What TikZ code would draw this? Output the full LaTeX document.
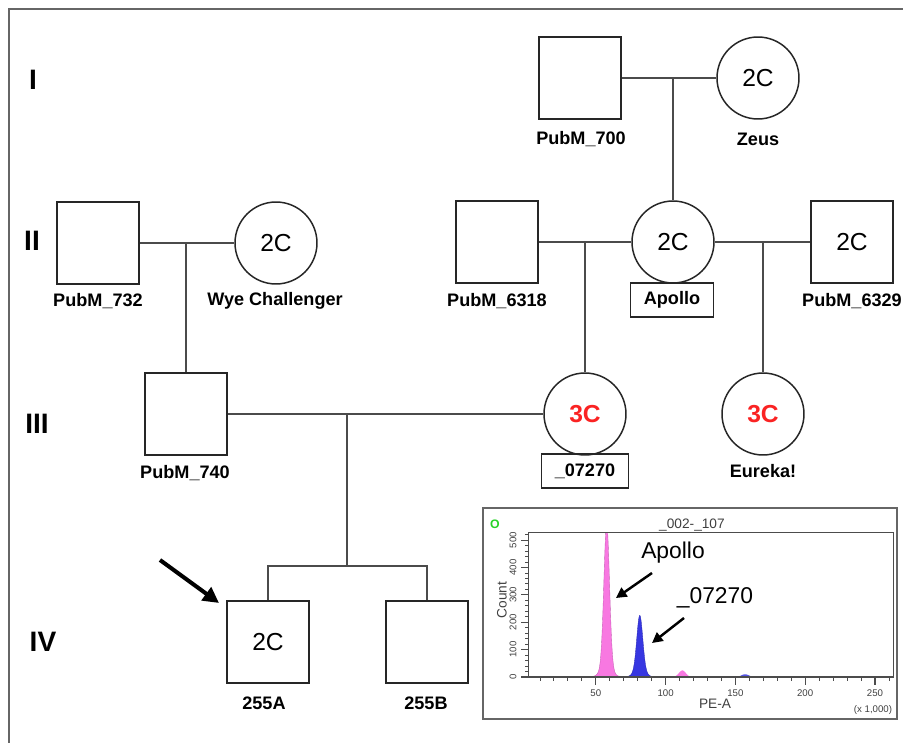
\documentclass[tikz,border=0pt]{standalone}
\usepackage{fontspec}
\setmainfont{Liberation Sans}
\usetikzlibrary{arrows.meta}

\definecolor{pedline}{RGB}{75,75,75}
\definecolor{threec}{RGB}{250,35,35}
\definecolor{apollopink}{RGB}{248,120,225}
\definecolor{peakblue}{RGB}{55,55,225}
\definecolor{gategreen}{RGB}{40,210,40}

\tikzset{
  male/.style={draw=black!85,line width=0.85pt,minimum size=1.64cm,inner sep=0pt,
    font=\fontsize{14}{16}\selectfont},
  female/.style={male,circle},
  triploid/.style={text=threec,font=\fontsize{14}{16}\selectfont\bfseries},
  idname/.style={inner sep=0pt,font=\fontsize{10.3}{12}\selectfont\bfseries},
  idbox/.style={idname,draw=black!85,line width=0.85pt,minimum width=1.66cm,minimum height=0.68cm},
  gen/.style={font=\fontsize{16}{18}\selectfont\bfseries},
  ped/.style={draw=pedline,line width=0.7pt},
  pointer/.style={line width=2.3pt,-{Triangle[length=9pt,width=9pt]}},
  peaklabel/.style={font=\fontsize{13}{15}\selectfont},
  smallpointer/.style={line width=1.4pt,-{Triangle[length=6pt,width=6pt]}},
  axistext/.style={text=black!75,inner sep=0pt,font=\fontsize{5.5}{6}\selectfont},
}

\begin{document}
\begin{tikzpicture}[x=0.02cm,y=-0.02cm]
  \useasboundingbox (0,0) rectangle (903,743);
  \draw[gray!80!black,line width=0.8pt] (9,743) -- (9,9) -- (903,9);

  % generations
  \node[gen] (g1) at (33,80) {I};
  \node[gen] (g2) at (32,241) {II};
  \node[gen] (g3) at (37,424) {III};
  \node[gen] (g4) at (43,642) {IV};

  % generation I
  \node[male] (p700) at (580,78) {};
  \node[female] (zeus) at (758,78) {2C};
  \node[idname] (p700l) at (581,139) {PubM\_700};
  \node[idname] (zeusl) at (758,139) {Zeus};

  % generation II
  \node[male] (p732) at (98,243) {};
  \node[female] (wye) at (276,243) {2C};
  \node[idname] (p732l) at (98,301) {PubM\_732};
  \node[idname] (wyel) at (275,301) {Wye Challenger};
  \node[male] (p6318) at (497,242) {};
  \node[female] (apollo) at (673,242) {2C};
  \node[idbox] (apollol) at (672,300) {Apollo};
  \node[male] (p6329) at (852,242) {2C};
  \node[idname] (p6318l) at (497,301) {PubM\_6318};
  \node[idname] (p6329l) at (852,301) {PubM\_6329};

  % generation III
  \node[male] (p740) at (186,414) {};
  \node[idname] (p740l) at (185,473) {PubM\_740};
  \node[female,triploid] (c07270) at (585,414) {3C};
  \node[idbox,minimum width=1.74cm] (c07270l) at (585,471) {\_07270};
  \node[female,triploid] (eureka) at (763,414) {3C};
  \node[idname] (eurekal) at (763,471) {Eureka!};

  % generation IV
  \node[male] (a255) at (268,642) {2C};
  \node[male] (b255) at (427,642) {};
  \node[idname] (a255l) at (264,703) {255A};
  \node[idname] (b255l) at (426,703) {255B};

  % matings and descent
  \coordinate (m1) at (673,78);
  \coordinate (m2) at (585,242);
  \coordinate (m3) at (763,242);
  \coordinate (m4) at (186,243);
  \coordinate (m5) at (347,414);
  \coordinate (s1) at (347,566);
  \draw[ped] (p700) -- (zeus);
  \draw[ped] (m1) -- (apollo);
  \draw[ped] (p732) -- (wye);
  \draw[ped] (m4) -- (p740);
  \draw[ped] (p6318) -- (apollo);
  \draw[ped] (apollo) -- (p6329);
  \draw[ped] (m2) -- (c07270);
  \draw[ped] (m3) -- (eureka);
  \draw[ped] (p740) -- (c07270);
  \draw[ped] (m5) -- (s1);
  \draw[ped] (a255) |- (s1) -| (b255);

  % proband
  \coordinate (tail) at (160,560);
  \coordinate (tip) at (219,603);
  \draw[pointer] (tail) -- (tip);

  % flow cytometry inset
  \draw[gray!80!black,line width=0.85pt] (483,508) rectangle (897,719);
  \begin{scope}[shift={(526,677)},x=0.02792cm,y=0.00548cm]
    \begin{scope}
      \clip (2.1,0) rectangle (263,529);
      \fill[apollopink!60] plot[domain=38:78,samples=120]
        (\x,{8*exp(-((\x-58)^2)/120)}) -- cycle;
      \fill[apollopink,draw=apollopink!80!black,line width=0.2pt] plot[domain=44:72,samples=150]
        (\x,{520*exp(-((\x-57.8)^2)/8)+40*exp(-((\x-57.5)^2)/30)}) -- cycle;
      \fill[peakblue,draw=peakblue!80!black,line width=0.2pt] plot[domain=70:94,samples=150]
        (\x,{200*exp(-((\x-81.5)^2)/9)+25*exp(-((\x-81.5)^2)/30)}) -- cycle;
      \fill[apollopink] plot[domain=103:121,samples=80]
        (\x,{24*exp(-((\x-112)^2)/12)}) -- cycle;
      \fill[peakblue!85] plot[domain=147:167,samples=80]
        (\x,{10*exp(-((\x-157)^2)/14)}) -- cycle;
    \end{scope}
    \draw[black!70,line width=0.6pt] (2.1,0) rectangle (263,529);
    \foreach \v in {10,20,...,260}
      \draw[black!70,line width=0.5pt] (\v,0) -- (\v,-16);
    \foreach \v in {50,100,...,250} {
      \draw[black!70,line width=0.6pt] (\v,0) -- (\v,-29);
      \node[axistext] at (\v,-58) {\v};
    }
    \foreach \c in {20,40,...,520}
      \draw[black!70,line width=0.5pt] (2.1,\c) -- (-0.8,\c);
    \foreach \c in {0,100,...,500} {
      \draw[black!70,line width=0.6pt] (2.1,\c) -- (-3.6,\c);
      \node[axistext,rotate=90] at (-9.3,\c) {\c};
    }
    \node[axistext,rotate=90,font=\fontsize{7.8}{9}\selectfont] (ylab) at (-17.2,281) {Count};
    \node[axistext,font=\fontsize{7.8}{9}\selectfont] (xlab) at (135.4,-98) {PE-A};
    \node[axistext] (xunit) at (248.6,-120) {(x 1,000)};
    \node[axistext,font=\fontsize{7.8}{9}\selectfont] (title) at (118.9,555) {\_002-\_107};
    \node[inner sep=0pt,text=gategreen,font=\fontsize{7}{8}\selectfont\bfseries] (gate) at (-22.2,558) {O};
  \end{scope}

  \node[peaklabel] (apk) at (673,553) {Apollo};
  \node[peaklabel] (bpk) at (715,598) {\_07270};
  \coordinate (atail) at (652,573);
  \coordinate (atip) at (616,598);
  \coordinate (btail) at (684,618);
  \coordinate (btip) at (652,643);
  \draw[smallpointer] (atail) -- (atip);
  \draw[smallpointer] (btail) -- (btip);
\end{tikzpicture}
\end{document}
